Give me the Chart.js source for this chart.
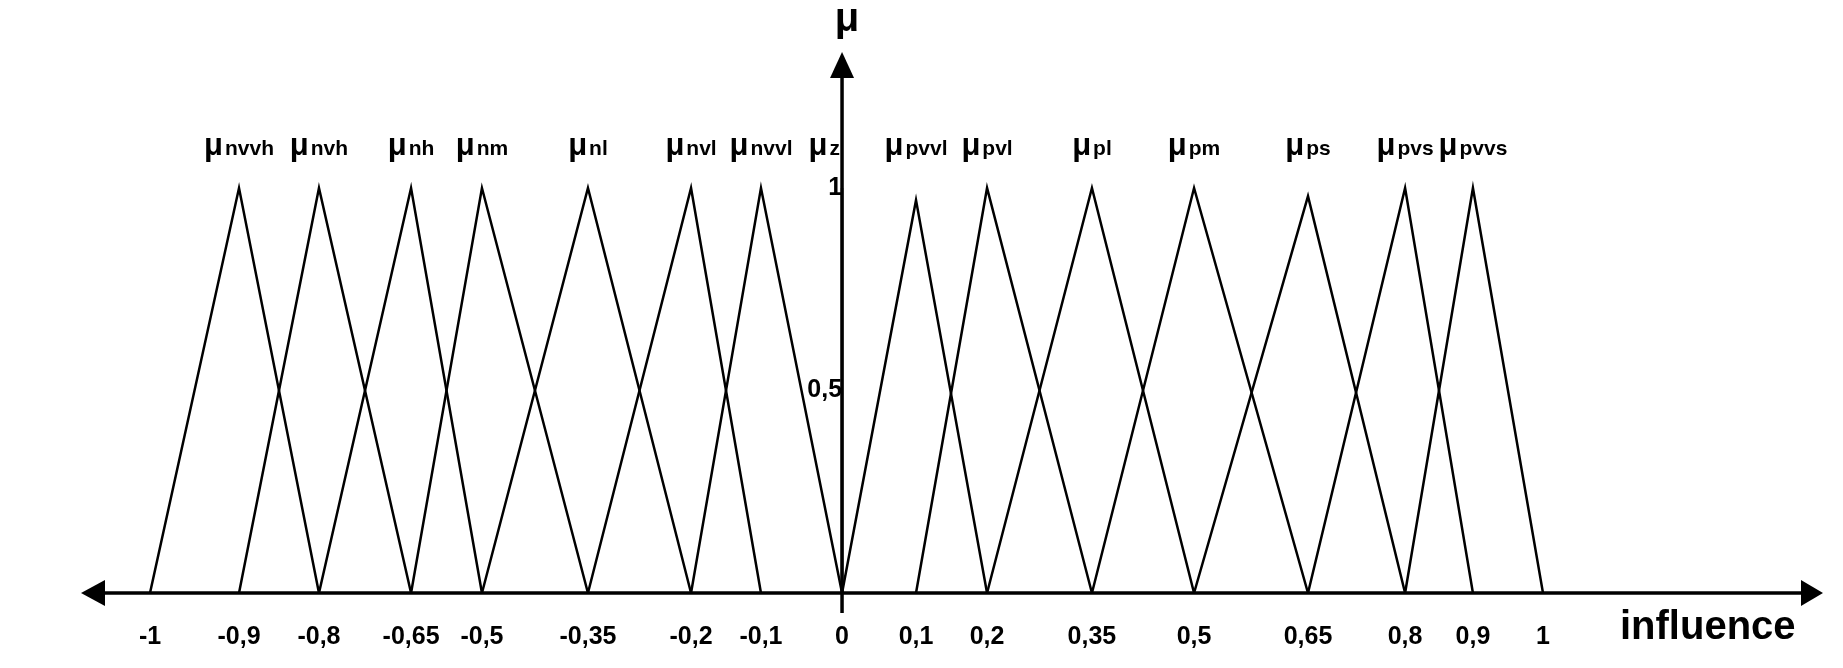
<!DOCTYPE html>
<html>
<head>
<meta charset="utf-8">
<script src="https://cdn.jsdelivr.net/npm/chart.js@4/dist/chart.umd.min.js"></script>
<style>
  html, body { margin: 0; padding: 0; background: #fff; }
  #wrap { width: 1843px; height: 668px; position: relative; }
</style>
</head>
<body>
<div id="wrap"><canvas id="fuzzy-chart"></canvas></div>
<script>
// Termos fuzzy da variavel "influence"
const setNames = ['nvvh', 'nvh', 'nh', 'nm', 'nl', 'nvl', 'nvvl', 'z', 'pvvl', 'pvl', 'pl', 'pm', 'ps', 'pvs', 'pvvs'];
const leftFoot  = [-1, -0.9, -0.8, -0.65, -0.5, -0.35, -0.2, 0, 0, 0.1, 0.2, 0.35, 0.5, 0.65, 0.8];
const peakAt    = [-0.9, -0.8, -0.65, -0.5, -0.35, -0.2, -0.1, 0, 0.1, 0.2, 0.35, 0.5, 0.65, 0.8, 0.9];
const rightFoot = [-0.8, -0.65, -0.5, -0.35, -0.2, -0.1, 0, 0, 0.2, 0.35, 0.5, 0.65, 0.8, 0.9, 1];
const peakValue = [1, 1, 1, 1, 1, 1, 1, 1, 0.97, 1, 1, 1, 0.98, 1, 1];

// ticks do eixo x (o eixo do desenho original nao e linear)
const xTicks = [-1, -0.9, -0.8, -0.65, -0.5, -0.35, -0.2, -0.1, 0, 0.1, 0.2, 0.35, 0.5, 0.65, 0.8, 0.9, 1];
// posicao relativa de cada tick ao longo do eixo
const xTickSpots = [0, 0.0639, 0.1213, 0.1874, 0.2383, 0.3144, 0.3884, 0.4386, 0.4968,
                    0.5499, 0.6009, 0.6762, 0.7495, 0.8313, 0.9010, 0.9497, 1];
const yTicks = [0.5, 1];

function interp(v, from, to) {
    let i = 0;
    while (i < from.length - 2 && v > from[i + 1]) i++;
    const t = (v - from[i]) / (from[i + 1] - from[i]);
    return to[i] + t * (to[i + 1] - to[i]);
}

class PiecewiseScale extends Chart.LinearScale {
    static id = 'piecewise';
    static defaults = Chart.LinearScale.defaults;
    getPixelForValue(value) {
        return this.getPixelForDecimal(interp(value, xTicks, xTickSpots));
    }
    getValueForPixel(pixel) {
        return interp(this.getDecimalForPixel(pixel), xTickSpots, xTicks);
    }
}
Chart.register(PiecewiseScale);

const fmt = v => String(v).replace('.', ',');
const labelFont = '"Liberation Sans", Arial, sans-serif';

const datasets = setNames.map((name, i) => ({
    label: 'μ' + name,
    data: [
        { x: leftFoot[i], y: 0 },
        { x: peakAt[i], y: peakValue[i] },
        { x: rightFoot[i], y: 0 }
    ],
    borderColor: '#000',
    borderWidth: 2.5,
    pointRadius: 0,
    tension: 0,
    clip: false
}));

const axesPlugin = {
    id: 'axesPlugin',
    afterDraw(chart) {
        const ctx = chart.ctx;
        const area = chart.chartArea;
        const x0 = chart.scales.x.getPixelForValue(0);
        const y0 = chart.scales.y.getPixelForValue(0);
        ctx.save();
        ctx.strokeStyle = '#000';
        ctx.fillStyle = '#000';
        ctx.lineWidth = 3.5;

        // eixo horizontal com setas
        const leftTip = area.left - 69, rightTip = area.right + 280;
        ctx.beginPath();
        ctx.moveTo(leftTip + 10, y0);
        ctx.lineTo(rightTip - 10, y0);
        ctx.stroke();
        ctx.beginPath();
        ctx.moveTo(leftTip, y0); ctx.lineTo(leftTip + 24, y0 - 13); ctx.lineTo(leftTip + 24, y0 + 13);
        ctx.closePath(); ctx.fill();
        ctx.beginPath();
        ctx.moveTo(rightTip, y0); ctx.lineTo(rightTip - 22, y0 - 13); ctx.lineTo(rightTip - 22, y0 + 13);
        ctx.closePath(); ctx.fill();

        // eixo vertical com seta
        const topTip = area.top - 136;
        ctx.beginPath();
        ctx.moveTo(x0, y0 + 20);
        ctx.lineTo(x0, topTip + 10);
        ctx.stroke();
        ctx.beginPath();
        ctx.moveTo(x0, topTip); ctx.lineTo(x0 - 12, topTip + 26); ctx.lineTo(x0 + 12, topTip + 26);
        ctx.closePath(); ctx.fill();

        // titulos dos eixos
        ctx.textBaseline = 'alphabetic';
        ctx.font = 'bold 40px ' + labelFont;
        ctx.textAlign = 'center';
        ctx.fillText('μ', x0 + 5, topTip - 21);
        ctx.textAlign = 'left';
        ctx.fillText('influence', area.right + 77, y0 + 46);

        // rotulos dos termos
        const baseY = area.top - 33;
        setNames.forEach((name, i) => {
            ctx.font = 'bold 31px ' + labelFont;
            const wMu = ctx.measureText('μ').width;
            ctx.font = 'bold 21px ' + labelFont;
            const wName = ctx.measureText(name).width;
            const total = wMu + 2 + wName;
            const px = chart.scales.x.getPixelForValue(peakAt[i]);
            let start = px - total / 2;
            if (peakAt[i] === 0) start = x0 - 2 - total;
            ctx.textAlign = 'left';
            ctx.font = 'bold 31px ' + labelFont;
            ctx.fillText('μ', start, baseY);
            ctx.font = 'bold 21px ' + labelFont;
            ctx.fillText(name, start + wMu + 2, baseY);
        });
        ctx.restore();
    }
};

new Chart(document.getElementById('fuzzy-chart'), {
    type: 'line',
    data: { datasets: datasets },
    options: {
        responsive: true,
        maintainAspectRatio: false,
        animation: false,
        layout: {
            padding: { left: 150, right: 300, top: 188, bottom: 75 }
        },
        plugins: {
            legend: { display: false },
            tooltip: { enabled: false }
        },
        scales: {
            x: {
                type: 'piecewise',
                min: -1,
                max: 1,
                position: { y: 0 },
                grid: { display: false, drawTicks: false },
                border: { display: false },
                afterBuildTicks: scale => { scale.ticks = xTicks.map(v => ({ value: v })); },
                ticks: {
                    autoSkip: false,
                    maxRotation: 0,
                    padding: 29,
                    color: '#000',
                    font: { family: labelFont, size: 25, weight: 'bold' },
                    callback: v => fmt(v)
                }
            },
            y: {
                type: 'linear',
                min: 0,
                max: 1,
                position: { x: 0 },
                grid: { display: false, drawTicks: false },
                border: { display: false },
                afterBuildTicks: scale => { scale.ticks = yTicks.map(v => ({ value: v })); },
                ticks: {
                    padding: 4,
                    color: '#000',
                    font: { family: labelFont, size: 25, weight: 'bold' },
                    callback: v => fmt(v)
                }
            }
        }
    },
    plugins: [axesPlugin]
});
</script>
</body>
</html>
